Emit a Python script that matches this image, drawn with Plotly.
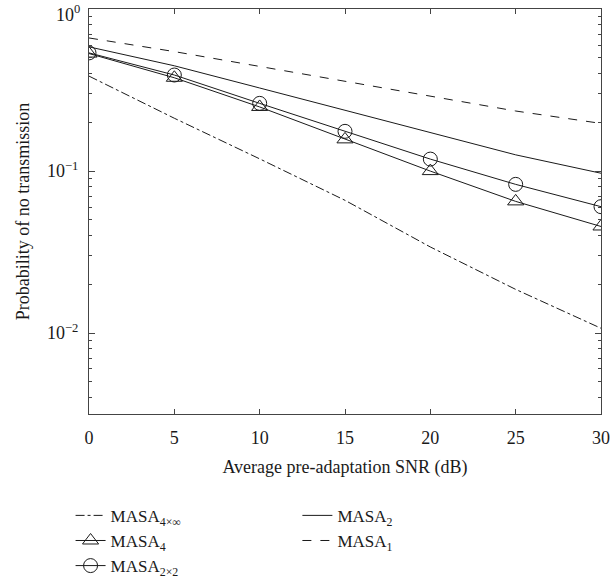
import plotly.graph_objects as go

snr = [0, 5, 10, 15, 20, 25, 30]
masa4inf = [0.386, 0.212, 0.119, 0.066, 0.034, 0.0186, 0.0107]
masa4 = [0.532, 0.377, 0.249, 0.157, 0.100, 0.065, 0.0455]
masa2x2 = [0.537, 0.392, 0.262, 0.176, 0.1186, 0.0828, 0.0603]
masa2 = [0.585, 0.447, 0.326, 0.237, 0.172, 0.126, 0.097]
masa1 = [0.664, 0.547, 0.443, 0.359, 0.290, 0.235, 0.197]

major_y = [1, 0.1, 0.01]
major_y_text = ["", "10<sup>−1</sup>", "10<sup>−2</sup>"]
top_label = "10<sup>0</sup>"
minor_y = [k * 10.0 ** d for d in (-3, -2, -1) for k in range(2, 10) if k * 10.0 ** d >= 0.0032]
x_ticks = [0, 5, 10, 15, 20, 25, 30]

FONT = "Liberation Serif"
FS = 18
C = "#1a1a1a"
AX = "#444"
YR = [-2.5, 0.001]

fig = go.Figure()
fig.add_trace(go.Scatter(x=snr, y=masa4inf, mode="lines", name="MASA<sub>4×∞</sub>",
                         line=dict(color=C, width=1, dash="dashdot"), legend="legend"))
fig.add_trace(go.Scatter(x=snr, y=masa4, mode="lines+markers", name="MASA<sub>4</sub>",
                         line=dict(color=C, width=1),
                         marker=dict(symbol="triangle-up-open", size=14, color=C, line=dict(width=1, color=C)),
                         legend="legend"))
fig.add_trace(go.Scatter(x=snr, y=masa2x2, mode="lines+markers", name="MASA<sub>2×2</sub>",
                         line=dict(color=C, width=1),
                         marker=dict(symbol="circle-open", size=14, color=C, line=dict(width=1, color=C)),
                         legend="legend"))
fig.add_trace(go.Scatter(x=snr, y=masa2, mode="lines", name="MASA<sub>2</sub>",
                         line=dict(color=C, width=1), legend="legend2"))
fig.add_trace(go.Scatter(x=snr, y=masa1, mode="lines", name="MASA<sub>1</sub>",
                         line=dict(color=C, width=1, dash="dash"), legend="legend2"))
# empty helper trace so the minor-tick overlay axis is drawn
fig.add_trace(go.Scatter(x=[], y=[], yaxis="y2", showlegend=False, hoverinfo="skip"))

axis_common = dict(showline=True, linecolor=AX, linewidth=1, mirror="ticks",
                   ticks="inside", tickcolor=AX, showgrid=False, zeroline=False,
                   automargin=False, ticklabeloverflow="allow",
                   tickfont=dict(family=FONT, size=FS, color=C))

fig.update_layout(
    xaxis=dict(range=[0, 30], tickvals=x_ticks, ticklen=5, ticklabelstandoff=7,
               title=dict(text="Average pre-adaptation SNR (dB)",
                          font=dict(family=FONT, size=FS, color=C), standoff=13),
               **axis_common),
    yaxis=dict(type="log", range=YR, tickvals=major_y, ticktext=major_y_text, ticklen=6,
               ticklabelstandoff=6,
               title=dict(text="Probability of no transmission",
                          font=dict(family=FONT, size=FS, color=C), standoff=12),
               **axis_common),
    yaxis2=dict(type="log", range=YR, overlaying="y", side="left", tickvals=minor_y,
                showticklabels=False, ticks="inside", ticklen=3, tickcolor=AX, automargin=False,
                showline=False, mirror="ticks", showgrid=False, zeroline=False),
)

# top decade label, nudged down so it stays inside the page as in the original
fig.add_annotation(text=top_label, xref="paper", x=0, xanchor="right", xshift=-7,
                   yref="y", y=0, yanchor="middle", yshift=-4, showarrow=False,
                   font=dict(family=FONT, size=FS, color=C))

legend_common = dict(font=dict(family=FONT, size=17, color=C), bgcolor="rgba(0,0,0,0)",
                     xanchor="left", yanchor="top", orientation="v", itemwidth=30, tracegroupgap=0)
fig.update_layout(
    width=613, height=581,
    margin=dict(l=89, r=12, t=9, b=167, autoexpand=False),
    plot_bgcolor="white", paper_bgcolor="white",
    font=dict(family=FONT, size=FS, color=C),
    legend=dict(x=-0.036, y=-0.207, **legend_common),
    legend2=dict(x=0.407, y=-0.207, **legend_common),
)

fig.write_html("out.html", config={"displayModeBar": False},
               post_script="document.body.style.margin='0';document.body.style.overflow='hidden';")
